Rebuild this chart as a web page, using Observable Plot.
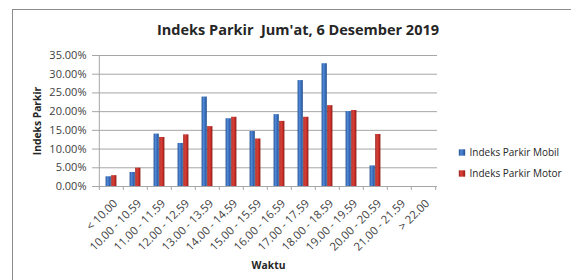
<!DOCTYPE html>
<html>
<head>
<meta charset="utf-8">
<script src="https://cdn.jsdelivr.net/npm/d3@7"></script>
<script src="https://cdn.jsdelivr.net/npm/@observablehq/plot@0.6"></script>
<style>
  html, body { margin: 0; padding: 0; background: #fff; }
  #wrap { position: relative; width: 571px; height: 280px; overflow: hidden; }
  #border { position: absolute; left: 12px; top: 9px; width: 600px; height: 300px;
            border-left: 1.5px solid #8c8c8c; border-top: 1.5px solid #8c8c8c; pointer-events: none; }
  svg { display: block; }
</style>
</head>
<body>
<div id="wrap"><div id="border"></div></div>
<script>
const categories = ["< 10.00", "10.00 - 10.59", "11.00 - 11.59", "12.00 - 12.59", "13.00 - 13.59",
  "14.00 - 14.59", "15.00 - 15.59", "16.00 - 16.59", "17.00 - 17.59", "18.00 - 18.59",
  "19.00 - 19.59", "20.00 - 20.59", "21.00 - 21.59", "> 22.00"];
const mobil = [0.026, 0.0375, 0.140, 0.115, 0.239, 0.181, 0.147, 0.192, 0.283, 0.328, 0.200, 0.055, 0, 0];
const motor = [0.029, 0.049, 0.131, 0.138, 0.160, 0.185, 0.127, 0.174, 0.185, 0.216, 0.203, 0.139, 0, 0];
const yTicks = [0, 0.05, 0.10, 0.15, 0.20, 0.25, 0.30, 0.35];
const seriesNames = ["Indeks Parkir Mobil", "Indeks Parkir Motor"];
const title = "Indeks Parkir  Jum'at, 6 Desember 2019";
const yLabel = "Indeks Parkir";
const xLabel = "Waktu";

const rows = categories.map((c, i) => ({cat: c, mobil: mobil[i], motor: motor[i]}));

const W = 571, H = 280;
const mL = 96, mR = 134, mT = 55, mB = 94;
const bw = (W - mL - mR) / categories.length;
const barW = 5.6;
const labelFont = "'Open Sans', 'Liberation Sans', sans-serif";
const tickFont = "'Open Sans', sans-serif";
const axisGray = "#a6a6a6";
const textGray = "#404040";
const legendFills = ["url(#gBlue)", "url(#gRed)"];

const legendMarks = seriesNames.flatMap((name, i) => [
  Plot.dot([name], {frameAnchor: "right", dx: 24.5, dy: 31.5 + 21 * i, symbol: "square", r: 3.6, fill: legendFills[i]}),
  Plot.text([name], {text: d => d, frameAnchor: "right", textAnchor: "start", lineAnchor: "middle", dx: 32, dy: 31.5 + 21 * i,
    fontSize: 10, fontFamily: labelFont, fill: "#262626"})
]);

const chart = Plot.plot({
  width: W, height: H,
  marginLeft: mL, marginRight: mR, marginTop: mT, marginBottom: mB,
  style: {fontFamily: tickFont, background: "transparent"},
  x: {type: "band", domain: categories, padding: 0},
  y: {domain: [0, 0.35]},
  marks: [
    Plot.gridY(yTicks, {stroke: axisGray, strokeOpacity: 1}),
    Plot.barY(rows, {x: "cat", y: "mobil", fill: "url(#gBlue)", insetLeft: bw / 2 - barW, insetRight: bw / 2}),
    Plot.barY(rows, {x: "cat", y: "motor", fill: "url(#gRed)", insetLeft: bw / 2, insetRight: bw / 2 - barW}),
    Plot.ruleY([0], {stroke: axisGray}),
    Plot.ruleX([categories[0]], {dx: -bw / 2, y1: 0, y2: 0.35, stroke: axisGray}),
    Plot.ruleX(categories, {x: d => d, dx: -bw / 2, y1: 0, y2: 0, insetBottom: -4, stroke: axisGray}),
    Plot.ruleX([categories[categories.length - 1]], {x: d => d, dx: bw / 2, y1: 0, y2: 0, insetBottom: -4, stroke: axisGray}),
    Plot.axisY(yTicks, {tickFormat: d3.format(".2%"), tickSize: 4, tickPadding: 6, stroke: axisGray, color: textGray, fontSize: 11, label: null}),
    Plot.axisX({tickRotate: -45, tickSize: 0, tickPadding: 15, dx: 4, color: textGray, fontSize: 11.3, label: null}),
    Plot.text([title], {text: d => d, frameAnchor: "top", lineAnchor: "middle", textAnchor: "middle", dx: 31, dy: -25,
      fontSize: 14.5, fontWeight: "bold", fontFamily: labelFont, fill: "#262626"}),
    Plot.text([yLabel], {text: d => d, frameAnchor: "left", lineAnchor: "middle", textAnchor: "middle", dx: -59, rotate: -90,
      fontSize: 10.3, fontWeight: "bold", fontFamily: labelFont, fill: "#262626"}),
    Plot.text([xLabel], {text: d => d, frameAnchor: "bottom", lineAnchor: "middle", textAnchor: "middle", dx: 1.5, dy: 79,
      fontSize: 10.3, fontWeight: "bold", fontFamily: labelFont, fill: "#262626"}),
    ...legendMarks
  ]
});

// gradient fills for the bevelled bars
const ns = "http://www.w3.org/2000/svg";
const defs = document.createElementNS(ns, "defs");
const grads = {
  gBlue: [["0%", "#24528f"], ["35%", "#4f87d6"], ["60%", "#3d74c4"], ["100%", "#24508c"]],
  gRed: [["0%", "#94201b"], ["35%", "#dc453d"], ["60%", "#c8322b"], ["100%", "#8f1e1a"]]
};
for (const [id, stops] of Object.entries(grads)) {
  const g = document.createElementNS(ns, "linearGradient");
  g.setAttribute("id", id);
  g.setAttribute("x1", "0"); g.setAttribute("x2", "1"); g.setAttribute("y1", "0"); g.setAttribute("y2", "0");
  for (const [off, col] of stops) {
    const s = document.createElementNS(ns, "stop");
    s.setAttribute("offset", off); s.setAttribute("stop-color", col);
    g.appendChild(s);
  }
  defs.appendChild(g);
}
chart.insertBefore(defs, chart.firstChild);
document.getElementById("wrap").prepend(chart);
</script>
</body>
</html>
